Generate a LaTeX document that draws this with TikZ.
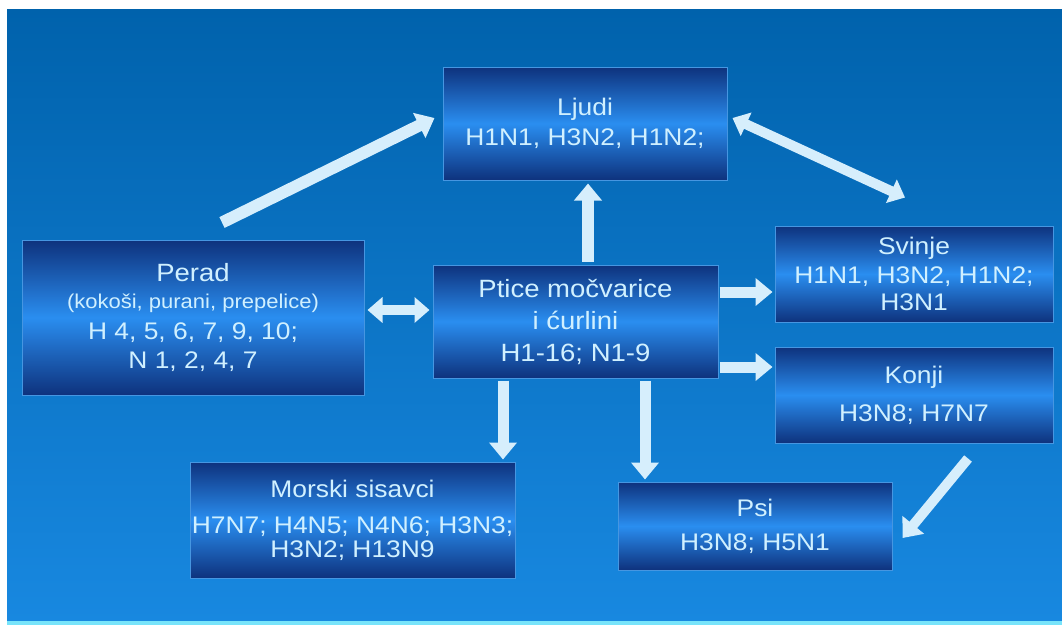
\documentclass[tikz,border=0pt]{standalone}
\usepackage{fontspec}
\setmainfont{Liberation Sans}[FakeStretch=1.1]
\usetikzlibrary{arrows.meta,calc}
\definecolor{bgtop}{RGB}{0,98,172}
\definecolor{bgbot}{RGB}{24,136,224}
\definecolor{boxdark}{RGB}{14,50,125}
\definecolor{boxmid}{RGB}{42,142,240}
\definecolor{boxline}{RGB}{70,150,225}
\definecolor{arrowc}{RGB}{214,238,252}
\definecolor{txt}{RGB}{208,240,255}
\definecolor{cyanline}{RGB}{120,228,250}
\begin{document}
\begin{tikzpicture}[x=1pt,y=-1pt,
  box/.style={draw=boxline, line width=1pt, top color=boxdark, bottom color=boxdark,
    middle color=boxmid, text=txt, align=center, inner sep=0pt,
    font=\fontsize{24}{29}\selectfont},
  flow/.style={draw=arrowc, line width=11pt, -{Triangle[width=27pt,length=17pt]}},
  both/.style={draw=arrowc, line width=10pt,
    {Triangle[width=25pt,length=15pt]}-{Triangle[width=25pt,length=15pt]}},
]
\useasboundingbox (0,0) rectangle (1062,625);
\fill[white] (0,0) rectangle (1062,625);
\shade[top color=bgtop, bottom color=bgbot] (7,9) rectangle (1062,621);
\fill[cyanline] (7,621) rectangle (1062,625);

\node[box, minimum width=284pt, minimum height=113pt] (ljudi) at (585,123.5)
  {Ljudi\\[1pt]H1N1, H3N2, H1N2;};
\node[box, minimum width=342pt, minimum height=155pt] (perad) at (193,317.5)
  {{\fontsize{25}{30}\selectfont Perad}\\[-2pt]{\fontsize{20}{24}\selectfont (kokoši, purani, prepelice)}\\[2pt]H 4, 5, 6, 7, 9, 10;\\N 1, 2, 4, 7};
\node[box, minimum width=285pt, minimum height=113pt, font=\fontsize{25}{32}\selectfont] (ptice) at (575.5,321.5)
  {Ptice močvarice\\i ćurlini\\H1-16; N1-9};
\node[box, minimum width=278pt, minimum height=96pt, font=\fontsize{24}{27}\selectfont] (svinje) at (914,274)
  {Svinje\\[2pt]H1N1, H3N2, H1N2;\\H3N1};
\node[box, minimum width=278pt, minimum height=96pt] (konji) at (914,395)
  {Konji\\[9pt]H3N8; H7N7};
\node[box, minimum width=325pt, minimum height=116pt, font=\fontsize{24}{24}\selectfont] (morski) at (352.5,520)
  {Morski sisavci\\[12pt]H7N7; H4N5; N4N6; H3N3;\\H3N2; H13N9};
\node[box, minimum width=274pt, minimum height=88pt] (psi) at (755,526)
  {Psi\\[5pt]H3N8; H5N1};

% arrows
\draw[flow, line width=12pt] ([xshift=29pt,yshift=17pt]perad.north) -- ([xshift=-8pt,yshift=5.5pt]ljudi.west);
\draw[both] ([xshift=5pt,yshift=5.5pt]ljudi.east) -- ([xshift=-9pt,yshift=28pt]svinje.north);
\draw[flow, line width=12pt, shorten >=3pt, shorten <=3pt] ([xshift=12.5pt]ptice.north) -- ([xshift=3pt]ljudi.south);
\draw[both, shorten >=3pt, shorten <=3pt] ([yshift=7.5pt]perad.east) -- ([yshift=11.5pt]ptice.west);
\coordinate (p1) at ([yshift=29.5pt]ptice.east);
\coordinate (p2) at ([yshift=-45.5pt]ptice.east);
\coordinate (p3) at ([xshift=-72.5pt]ptice.south);
\coordinate (p4) at ([xshift=69.5pt]ptice.south);
\draw[flow, shorten <=1pt, shorten >=2pt] (p1) -- (p1 -| svinje.west);
\draw[flow, shorten <=1pt, shorten >=2pt] (p2) -- (p2 -| konji.west);
\draw[flow, shorten <=2pt, shorten >=2pt] (p3) -- (p3 |- morski.north);
\draw[flow, shorten <=2pt, shorten >=2pt] (p4) -- (p4 |- psi.north);
\draw[flow, line width=10pt] ([xshift=54pt,yshift=-15pt]konji.south) -- ([xshift=10pt,yshift=-12pt]psi.east);
\end{tikzpicture}
\end{document}
